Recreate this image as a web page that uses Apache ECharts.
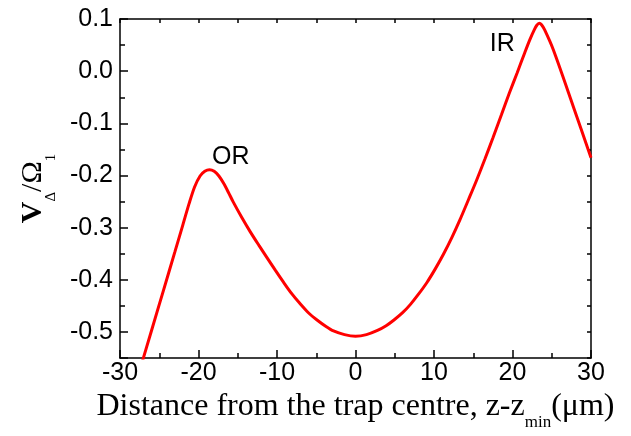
<!DOCTYPE html>
<html>
<head>
<meta charset="utf-8">
<script src="https://cdn.jsdelivr.net/npm/echarts@6/dist/echarts.min.js"></script>
<style>
html,body{margin:0;padding:0;background:#fff;}
#chart{width:631px;height:436px;}
</style>
</head>
<body>
<div id="chart"></div>
<script>
// Distance from trap centre (µm)
const zValues = [-27.5, -26.0, -24.5, -23.0, -22.0, -21.2, -20.5, -19.8, -19.2, -18.6, -18.0, -17.4, -16.8, -16.2, -15.6, -14.5, -13.4, -12.3, -11.3, -10.2, -9.2, -8.1, -7.1, -6.0, -4.9, -3.8, -2.8, -1.4, 0, 1.4, 2.8, 3.9, 4.9, 6.0, 7.0, 8.0, 9.1, 10.2, 11.2, 12.3, 13.3, 14.4, 15.4, 16.5, 17.5, 18.6, 19.6, 20.6, 21.5, 22.2, 22.8, 23.1, 23.4, 23.7, 24.1, 25.2, 27.75, 30];
// V_Δ/Ω_1
const vValues = [-0.574, -0.498, -0.422, -0.346, -0.295, -0.254, -0.222, -0.201, -0.192, -0.189, -0.192, -0.201, -0.215, -0.232, -0.250, -0.280, -0.308, -0.334, -0.357, -0.382, -0.404, -0.427, -0.445, -0.463, -0.477, -0.489, -0.498, -0.505, -0.508, -0.505, -0.497, -0.488, -0.477, -0.463, -0.447, -0.428, -0.405, -0.378, -0.351, -0.318, -0.285, -0.246, -0.210, -0.168, -0.128, -0.083, -0.042, -0.003, 0.033, 0.060, 0.080, 0.088, 0.092, 0.089, 0.079, 0.041, -0.068, -0.166];
// annotations
const annoNames = ['OR', 'IR'];
const annoZ = [-15.9, 18.7];
const annoV = [-0.165, 0.052];

const xMin = -30, xMax = 30, xStep = 10;
const yMin = -0.55, yMax = 0.1;

const chart = echarts.init(document.getElementById('chart'), null, {renderer: 'canvas'});
const sans = 'Liberation Sans, Arial, sans-serif';
const serif = 'Liberation Serif, Times New Roman, serif';
const lineStyle = {color: '#000', width: 1.5};

const curve = zValues.map((z, i) => [z, vValues[i]]);
const annos = annoNames.map((n, i) => ({name: n, value: [annoZ[i], annoV[i]]}));

chart.setOption({
  animation: false,
  backgroundColor: '#fff',
  grid: {left: 120, right: 40, top: 19, bottom: 73, containLabel: false},
  xAxis: [{
    type: 'value', min: xMin, max: xMax, interval: xStep, position: 'bottom',
    axisLine: {show: true, onZero: false, lineStyle},
    axisTick: {show: true, inside: true, length: 8, lineStyle},
    minorTick: {show: true, splitNumber: 2, length: 5, lineStyle},
    splitLine: {show: false},
    axisLabel: {fontFamily: sans, fontSize: 25, color: '#000', margin: 3},
    name: '{m|Distance from the trap centre, z-z}{s|min}{m|(μm)}',
    nameLocation: 'middle', nameGap: 28,
    nameTextStyle: {
      rich: {
        m: {fontFamily: serif, fontSize: 32, color: '#000', lineHeight: 34, verticalAlign: 'top'},
        s: {fontFamily: serif, fontSize: 17, color: '#000', lineHeight: 17, padding: [23, 0, 0, 0], verticalAlign: 'top'}
      }
    }
  }, {
    type: 'value', min: xMin, max: xMax, interval: 5, position: 'top',
    axisLine: {show: true, onZero: false, lineStyle},
    axisTick: {show: true, inside: true, length: 4, lineStyle},
    axisLabel: {show: false}, splitLine: {show: false}
  }],
  yAxis: [{
    type: 'value', min: yMin, max: yMax, position: 'left',
    axisLine: {show: true, onZero: false, lineStyle},
    axisTick: {show: true, inside: true, length: 8, lineStyle},
    minorTick: {show: true, splitNumber: 2, length: 5, lineStyle},
    splitLine: {show: false},
    axisLabel: {
      fontFamily: sans, fontSize: 25, color: '#000', margin: 7,
      formatter: v => (Math.abs(v * 10 - Math.round(v * 10)) < 1e-6 ? (Math.abs(v) < 1e-9 ? '0.0' : v.toFixed(1)) : '')
    },
    name: '{v|V}{s|Δ}{b|/Ω}{s|1}',
    nameLocation: 'middle', nameGap: 71, nameRotate: 90,
    nameTextStyle: {
      rich: {
        v: {fontFamily: serif, fontSize: 30, fontWeight: 'bold', color: '#000', lineHeight: 30, verticalAlign: 'top'},
        b: {fontFamily: serif, fontSize: 30, color: '#000', lineHeight: 30, verticalAlign: 'top'},
        s: {fontFamily: serif, fontSize: 15, color: '#000', lineHeight: 15, padding: [26, 0, 0, 0], verticalAlign: 'top'}
      }
    }
  }, {
    type: 'value', min: yMin, max: yMax, interval: 0.05, position: 'right',
    axisLine: {show: true, onZero: false, lineStyle},
    axisTick: {show: true, inside: true, length: 4, lineStyle},
    axisLabel: {show: false}, splitLine: {show: false}
  }],
  series: [{
    type: 'line', data: curve, xAxisIndex: 0, yAxisIndex: 0,
    showSymbol: false, smooth: 0.3, clip: true,
    lineStyle: {color: '#ff0000', width: 3}
  }, {
    type: 'scatter', data: annos, xAxisIndex: 0, yAxisIndex: 0,
    symbolSize: 0, silent: true, itemStyle: {opacity: 1},
    label: {show: true, position: 'inside', formatter: p => p.name, fontFamily: sans, fontSize: 25, color: '#000', opacity: 1}
  }]
});
</script>
</body>
</html>
